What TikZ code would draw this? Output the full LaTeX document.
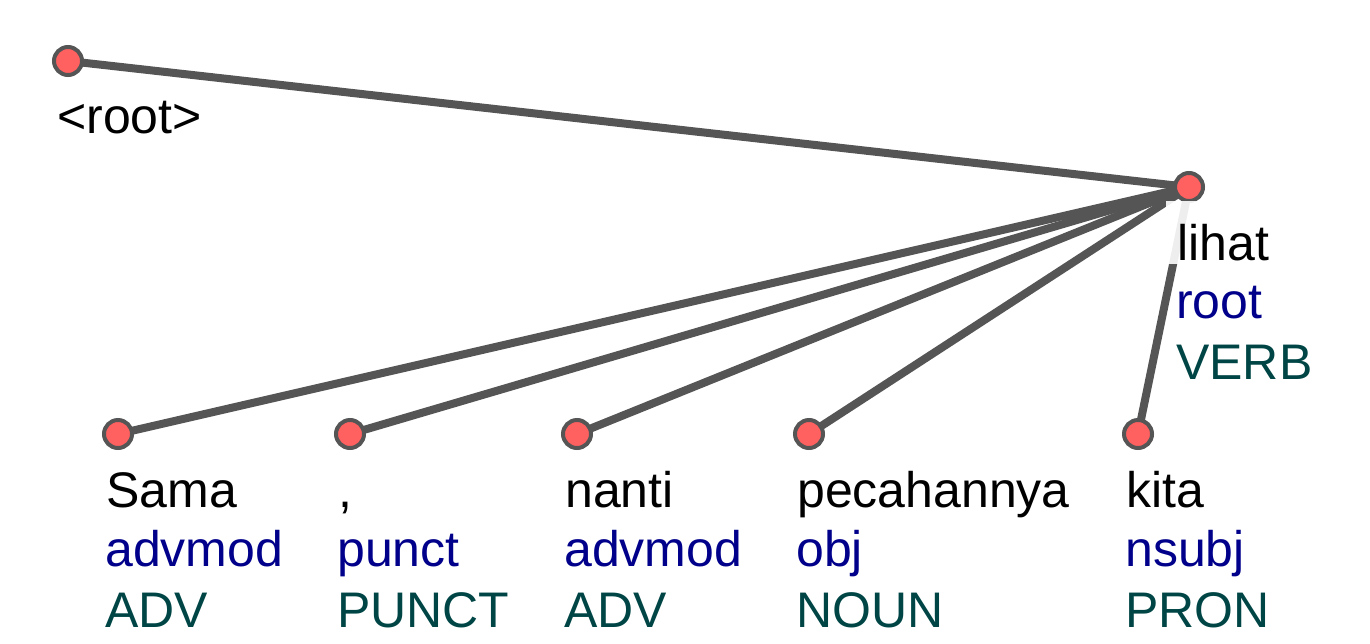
\documentclass[tikz,border=0pt]{standalone}
\usepackage{fontspec}
\setmainfont{Liberation Sans}
\usetikzlibrary{backgrounds}
\definecolor{edgegray}{HTML}{555555}
\definecolor{nodered}{HTML}{FF6060}
\definecolor{deplbl}{HTML}{00008B}
\definecolor{poslbl}{HTML}{004545}
\tikzset{
  tok/.style={circle, draw=edgegray, fill=nodered, line width=3pt, minimum size=21pt, inner sep=0pt},
  dep/.style={draw=edgegray, line width=6pt},
  wordtxt/.style={anchor=base west, inner sep=0pt, font=\fontsize{37.5}{45}\selectfont, text=black},
  reltxt/.style={wordtxt, text=deplbl},
  postxt/.style={wordtxt, text=poslbl},
}
\begin{document}
\begin{tikzpicture}[x=0.75pt, y=-0.75pt]
\useasboundingbox (0,0) rectangle (1370,643);
% token circles
\node[tok] (r) at (68,61) {};
\node[tok] (lihat) at (1189,187) {};
\node[tok] (sama) at (118,434) {};
\node[tok] (comma) at (350,434) {};
\node[tok] (nanti) at (577,434) {};
\node[tok] (pec) at (809,434) {};
\node[tok] (kita) at (1138,434) {};
% edges behind
\begin{pgfonlayer}{background}
\draw[dep] (r.center) -- (lihat.center);
\draw[dep] (lihat.center) -- (sama.center);
\draw[dep] (lihat.center) -- (comma.center);
\draw[dep] (lihat.center) -- (nanti.center);
\draw[dep] (lihat.center) -- (pec.center);
\draw[dep] (lihat.center) -- (kita.center);
\end{pgfonlayer}
% semi-transparent backing of the word label of "lihat"
\fill[white, fill opacity=0.9] (1166,201) rectangle (1276,264);
% labels
\node[wordtxt] (tr) at (57,133) {<root>};
\node[wordtxt] (wl) at (1177,260.5) {lihat};
\node[reltxt] (rl) at (1176,318.5) {root};
\node[postxt] (pl) at (1176,379) {VERB};
\node[wordtxt] (w1) at (106,507.5) {Sama};
\node[reltxt] (r1) at (105,566.5) {advmod};
\node[postxt] (p1) at (105,627) {ADV};
\node[wordtxt] (w2) at (338,507.5) {,};
\node[reltxt] (r2) at (337,566.5) {punct};
\node[postxt] (p2) at (337,627) {PUNCT};
\node[wordtxt] (w3) at (565,507.5) {nanti};
\node[reltxt] (r3) at (564,566.5) {advmod};
\node[postxt] (p3) at (564,627) {ADV};
\node[wordtxt] (w4) at (797,507.5) {pecahannya};
\node[reltxt] (r4) at (796,566.5) {obj};
\node[postxt] (p4) at (796,627) {NOUN};
\node[wordtxt] (w5) at (1126,507.5) {kita};
\node[reltxt] (r5) at (1125,566.5) {nsubj};
\node[postxt] (p5) at (1125,627) {PRON};
\end{tikzpicture}
\end{document}
